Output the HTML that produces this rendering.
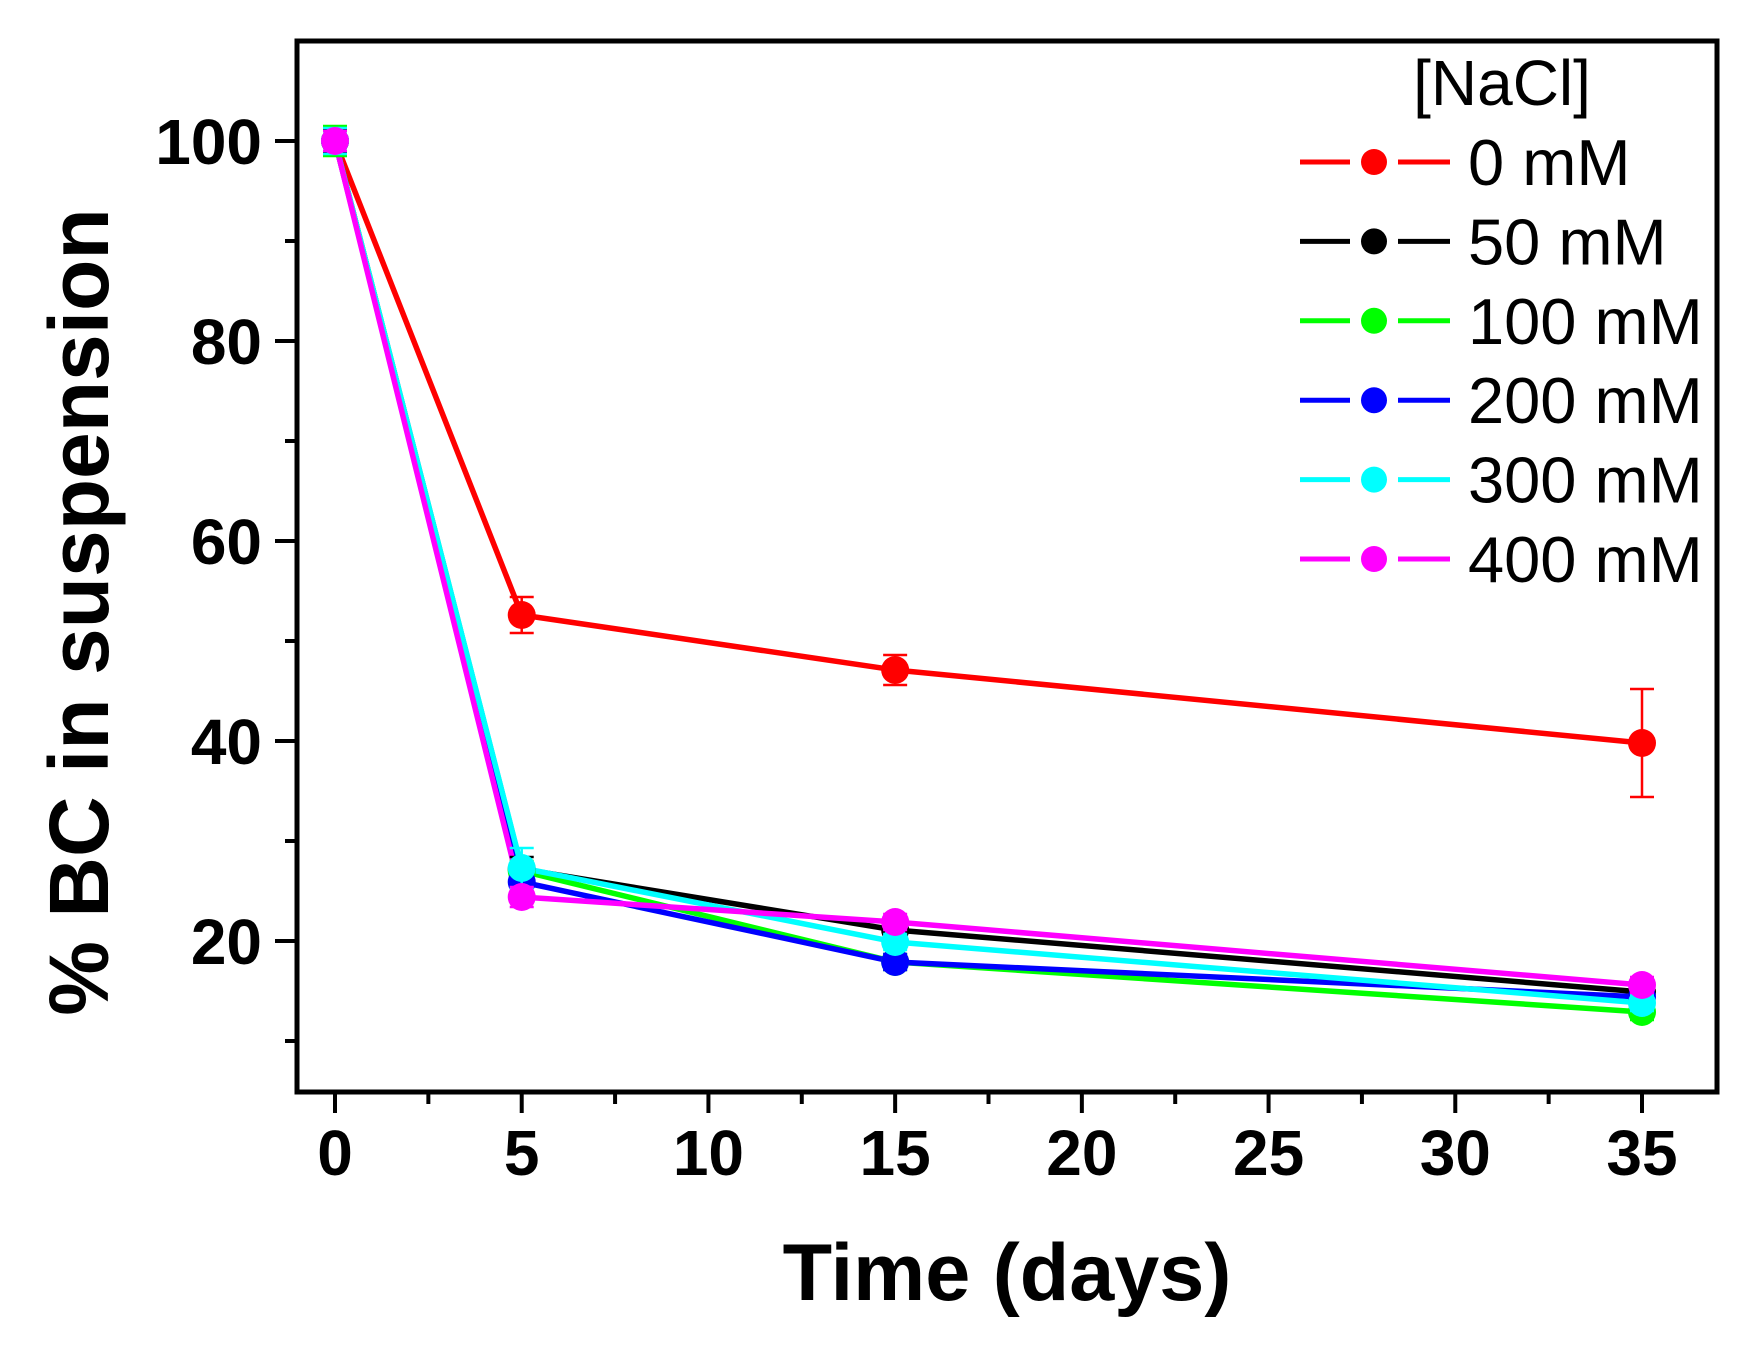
<!DOCTYPE html>
<html><head><meta charset="utf-8">
<style>
html,body{margin:0;padding:0;background:#fff;}
svg{display:block;font-family:"Liberation Sans",Arial,sans-serif;}
</style></head>
<body>
<svg id="chart" width="1752" height="1346" viewBox="0 0 1752 1346" xmlns="http://www.w3.org/2000/svg">
<rect x="0" y="0" width="1752" height="1346" fill="#fff"/>
<g id="marks"></g>
<g id="axes"></g>
<text x="1007" y="1300" font-size="81" font-weight="bold" text-anchor="middle">Time (days)</text>
<text transform="translate(108,612) rotate(-90)" font-size="84" font-weight="bold" text-anchor="middle">% BC in suspension</text>
<g id="legend">
<text x="1502" y="105" font-size="64" text-anchor="middle">[NaCl]</text>
</g>
</svg>
<script>
const days = [0, 5, 15, 35];
const seriesNames = ["0 mM","50 mM","100 mM","200 mM","300 mM","400 mM"];
const seriesColors = ["#ff0000","#000000","#00ff00","#0000ff","#00ffff","#ff00ff"];
const s0 = [100, 52.6, 47.1, 39.8];
const s50 = [100, 27.2, 21.1, 14.9];
const s100 = [100, 27.0, 17.9, 12.9];
const s200 = [100, 25.9, 17.9, 14.4];
const s300 = [100, 27.3, 19.9, 13.8];
const s400 = [100, 24.4, 21.9, 15.6];
const e0 = [1.2, 1.8, 1.5, 5.4];
const e50 = [1.2, 1.2, 0.8, 0.8];
const e100 = [1.5, 1.0, 0.8, 0.8];
const e200 = [1.0, 1.0, 0.8, 0.8];
const e300 = [1.3, 2.0, 0.8, 0.8];
const e400 = [1.0, 1.0, 0.8, 0.8];
const xTicks = [0, 5, 10, 15, 20, 25, 30, 35];
const yTicks = [20, 40, 60, 80, 100];

const allSeries = [s0, s50, s100, s200, s300, s400];
const allErrs = [e0, e50, e100, e200, e300, e400];
const NS = "http://www.w3.org/2000/svg";
const L = 297, R = 1717, T = 41, B = 1092;
const xScale = d => 335 + (d - 0) * (1642 - 335) / 35;
const yScale = v => 141 + (100 - v) * (941 - 141) / 80;
function mk(tag, attrs, parent) {
  const el = document.createElementNS(NS, tag);
  for (const k in attrs) el.setAttribute(k, attrs[k]);
  parent.appendChild(el);
  return el;
}
const marks = document.getElementById('marks');
const axes = document.getElementById('axes');
const legend = document.getElementById('legend');

allSeries.forEach((s, i) => {
  const pts = s.map((v, j) => xScale(days[j]) + "," + yScale(v)).join(" ");
  const pl = mk('polyline', {points: pts, fill: 'none', stroke: seriesColors[i], 'stroke-width': 5.5, 'stroke-linejoin': 'round'}, marks);
  
  
});
allSeries.forEach((s, i) => {
  s.forEach((v, j) => {
    const x = xScale(days[j]);
    const e = allErrs[i][j];
    const g = mk('g', {stroke: seriesColors[i], 'stroke-width': 2.5}, marks);
    
    
    mk('line', {x1: x, x2: x, y1: yScale(v + e), y2: yScale(v - e)}, g);
    mk('line', {x1: x - 12, x2: x + 12, y1: yScale(v + e), y2: yScale(v + e)}, g);
    mk('line', {x1: x - 12, x2: x + 12, y1: yScale(v - e), y2: yScale(v - e)}, g);
    const c = mk('circle', {cx: x, cy: yScale(v), r: 14, fill: seriesColors[i]}, marks);
    
    
  });
});

const frame = mk('rect', {x: L, y: T, width: R - L, height: B - T, fill: 'none', stroke: '#000', 'stroke-width': 5}, axes);


for (let d = 0; d <= 35; d += 2.5) {
  const major = xTicks.includes(d);
  const t = mk('line', {x1: xScale(d), x2: xScale(d), y1: B, y2: B + (major ? 21 : 12), stroke: '#000', 'stroke-width': 4}, axes);
  
  
}
xTicks.forEach(d => {
  const tx = mk('text', {x: xScale(d), y: 1175, 'font-size': 64, 'font-weight': 'bold', 'text-anchor': 'middle'}, axes);
  tx.textContent = d;
  
  
});
for (let v = 10; v <= 100; v += 10) {
  const major = yTicks.includes(v);
  const t = mk('line', {x1: L - (major ? 22 : 12), x2: L, y1: yScale(v), y2: yScale(v), stroke: '#000', 'stroke-width': 4}, axes);
  
  
}
yTicks.forEach(v => {
  const tx = mk('text', {x: 262, y: yScale(v) + 23, 'font-size': 64, 'font-weight': 'bold', 'text-anchor': 'end'}, axes);
  tx.textContent = v;
  
  
});
seriesNames.forEach((n, i) => {
  const y = 162 + i * 79.4;
  const g = mk('g', {}, legend);
  
  
  mk('line', {x1: 1300, x2: 1350, y1: y, y2: y, stroke: seriesColors[i], 'stroke-width': 5}, g);
  mk('line', {x1: 1398, x2: 1450, y1: y, y2: y, stroke: seriesColors[i], 'stroke-width': 5}, g);
  mk('circle', {cx: 1374, cy: y, r: 13, fill: seriesColors[i]}, g);
  const t = mk('text', {x: 1468, y: y + 23, 'font-size': 65}, g);
  t.textContent = n;
});
</script>
</body></html>
